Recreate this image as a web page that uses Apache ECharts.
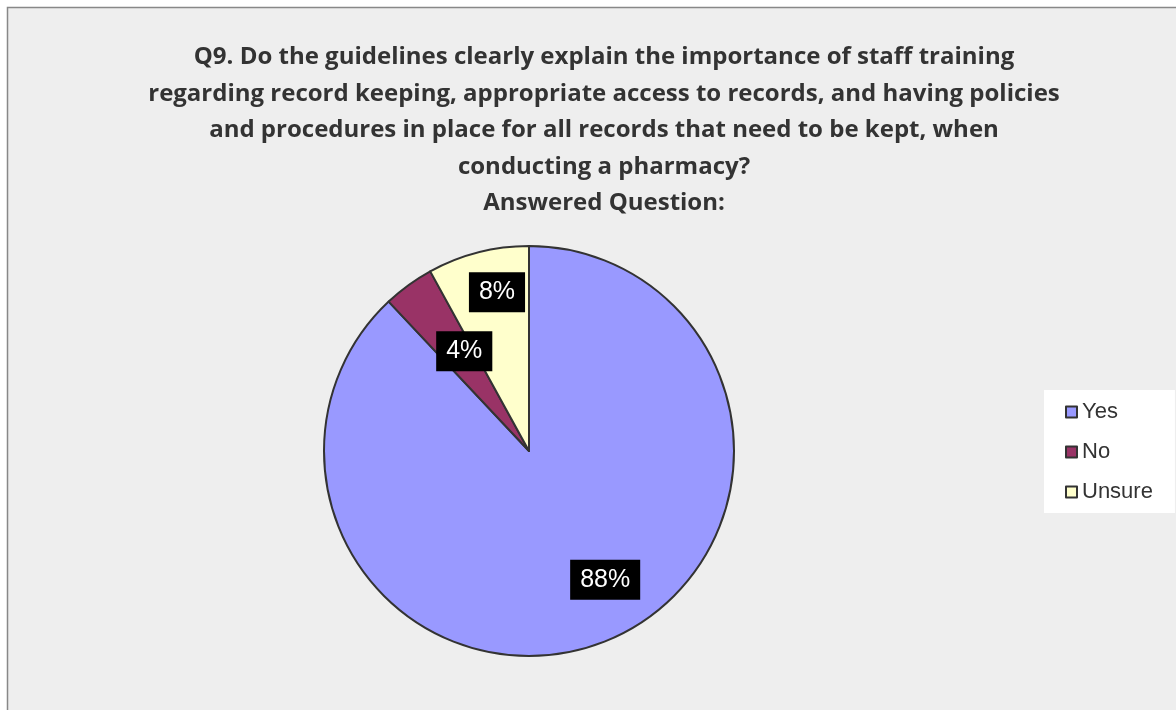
<!DOCTYPE html>
<html>
<head>
<meta charset="utf-8">
<title>Q9 record keeping guidelines</title>
<script src="https://cdn.jsdelivr.net/npm/echarts@6/dist/echarts.min.js"></script>
<style>
  html, body { margin: 0; padding: 0; background: #ffffff; }
  #chart { width: 1176px; height: 710px; }
</style>
</head>
<body>
<div id="chart"></div>
<script>
// Survey answers for Q9 (share of respondents, %)
const categories = ['Yes', 'No', 'Unsure'];
const shares = [88, 4, 8];
const sliceColors = ['#9999FF', '#993366', '#FFFFCC'];

const titleLines = [
  'Q9. Do the guidelines clearly explain the importance of staff training',
  'regarding record keeping, appropriate access to records, and having policies',
  'and procedures in place for all records that need to be kept, when',
  'conducting a pharmacy?',
  'Answered Question:'
];

// Pie geometry
const CX = 529, CY = 451, R = 205;
// Where each percentage tag sits: fraction of the radius and an angular nudge (degrees)
const tagRadius = [0.73, 0.58, 0.79];
const tagNudge = [-9, 3, 3];

const total = shares.reduce((a, b) => a + b, 0);
function midAngle(i) {
  let before = 0;
  for (let k = 0; k < i; k++) before += shares[k];
  return (before + shares[i] / 2) / total * 360;
}

const chart = echarts.init(document.getElementById('chart'), null, { renderer: 'canvas' });

chart.setOption({
  backgroundColor: 'transparent',
  animation: false,
  graphic: [{
    type: 'rect',
    z: -10,
    silent: true,
    shape: { x: 7.5, y: 7.5, width: 1300, height: 900 },
    style: { fill: '#EEEEEE', stroke: '#888888', lineWidth: 1.5 }
  }],
  title: {
    text: titleLines.join('\n'),
    left: 604,
    top: 39,
    padding: 0,
    textAlign: 'center',
    textStyle: {
      fontFamily: 'Open Sans',
      fontWeight: 'bold',
      fontSize: 24,
      lineHeight: 36.5,
      color: '#333333'
    }
  },
  legend: {
    orient: 'vertical',
    left: 1044,
    top: 390,
    padding: [11, 22, 10, 21],
    backgroundColor: '#FFFFFF',
    itemWidth: 11,
    itemHeight: 11,
    itemGap: 18,
    icon: 'rect',
    data: categories,
    itemStyle: { borderColor: '#333333', borderWidth: 2 },
    textStyle: {
      fontFamily: 'Liberation Sans',
      fontSize: 22,
      color: '#333333'
    }
  },
  series: [{
    type: 'pie',
    center: [CX, CY],
    radius: [0, R],
    startAngle: 90,
    clockwise: true,
    avoidLabelOverlap: false,
    color: sliceColors,
    itemStyle: { borderColor: '#333333', borderWidth: 2 },
    emphasis: { disabled: true },
    label: {
      show: true,
      position: 'inside',
      formatter: '{c}%',
      fontFamily: 'Liberation Sans',
      fontSize: 25,
      color: '#FFFFFF',
      backgroundColor: '#000000',
      padding: [8, 10, 7, 10]
    },
    labelLayout: function (p) {
      const i = p.dataIndex;
      const a = (midAngle(i) + tagNudge[i]) * Math.PI / 180;
      const rr = R * tagRadius[i];
      return {
        x: CX + rr * Math.sin(a),
        y: CY - rr * Math.cos(a),
        align: 'center',
        verticalAlign: 'middle'
      };
    },
    data: categories.map((c, i) => ({ name: c, value: shares[i] }))
  }]
});
</script>
</body>
</html>
